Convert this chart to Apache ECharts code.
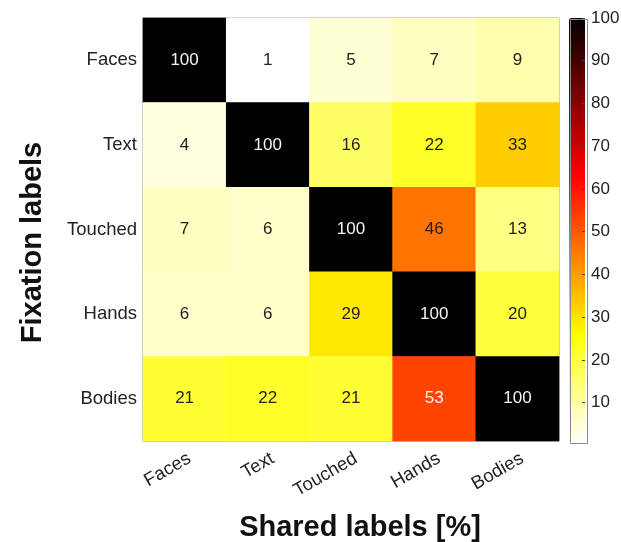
<!DOCTYPE html>
<html>
<head>
<meta charset="utf-8">
<script src="https://cdn.jsdelivr.net/npm/echarts@6/dist/echarts.min.js"></script>
<style>
  html, body { margin: 0; padding: 0; background: #fff; }
  #chart { width: 621px; height: 542px; }
</style>
</head>
<body>
<div id="chart"></div>
<script>
// Category labels (columns: shared labels, rows: fixation labels)
const sharedLabels = ['Faces', 'Text', 'Touched', 'Hands', 'Bodies'];
const fixationLabels = ['Faces', 'Text', 'Touched', 'Hands', 'Bodies'];

// Percentages, one row per fixation label
const rowFaces   = [100, 1, 5, 7, 9];
const rowText    = [4, 100, 16, 22, 33];
const rowTouched = [7, 6, 100, 46, 13];
const rowHands   = [6, 6, 29, 100, 20];
const rowBodies  = [21, 22, 21, 53, 100];
const matrix = [rowFaces, rowText, rowTouched, rowHands, rowBodies];

// Colour bar range and tick labels
const colorMin = 1;
const colorMax = 100;
const colorTicks = [10, 20, 30, 40, 50, 60, 70, 80, 90, 100];

// Reversed "hot" colour map, low -> high
const hotReversed = [
  '#ffffff', '#ffff80', '#ffff00', '#ffaa00', '#ff5500',
  '#ff0000', '#aa0000', '#550000', '#000000'
];

const cells = [];
matrix.forEach((row, r) => {
  row.forEach((v, c) => cells.push({
    value: [c, r, v],
    label: { color: v > 50 ? '#f4f4f4' : '#222' }
  }));
});

const font = 'Liberation Sans, Arial, sans-serif';
const chart = echarts.init(document.getElementById('chart'));

chart.setOption({
  animation: false,
  backgroundColor: '#ffffff',
  grid: [
    { left: 143, top: 18, width: 416, height: 423, show: true, outerBoundsMode: 'none',
      borderColor: '#8a8a8a', borderWidth: 1, backgroundColor: 'transparent' },
    { left: 569, top: 18, width: 16, height: 423, show: false, outerBoundsMode: 'none' }
  ],
  xAxis: [
    {
      type: 'category', gridIndex: 0, data: sharedLabels,
      name: 'Shared labels [%]', nameLocation: 'middle', nameGap: 72,
      nameTextStyle: { fontFamily: font, fontSize: 29, fontWeight: 'bold', color: '#111',
        padding: [0, 0, 0, 18] },
      axisLine: { show: false }, axisTick: { show: false }, splitLine: { show: false },
      axisLabel: { rotate: 30, margin: 8, verticalAlign: 'top',
        fontFamily: font, fontSize: 18.5, color: '#222' }
    },
    { type: 'value', gridIndex: 1, show: false, min: 0, max: 1 }
  ],
  yAxis: [
    {
      type: 'category', gridIndex: 0, data: fixationLabels, inverse: true,
      name: 'Fixation labels', nameLocation: 'middle', nameGap: 96,
      nameTextStyle: { fontFamily: font, fontSize: 29, fontWeight: 'bold', color: '#111',
        padding: [0, 26, 0, 0] },
      axisLine: { show: false }, axisTick: { show: false }, splitLine: { show: false },
      axisLabel: { margin: 6, fontFamily: font, fontSize: 18.5, color: '#222' }
    },
    {
      // Colour bar scale on the right edge of the bar
      type: 'value', gridIndex: 1, position: 'right', min: colorMin, max: colorMax, z: 20,
      axisLine: { show: false, onZero: false },
      splitLine: { show: false },
      axisTick: { show: true, inside: true, length: 3, customValues: colorTicks,
        lineStyle: { color: '#444' } },
      axisLabel: { margin: 6, fontFamily: font, fontSize: 17, color: '#222',
        customValues: colorTicks }
    }
  ],
  visualMap: {
    type: 'continuous', min: colorMin, max: colorMax, seriesIndex: 0,
    orient: 'vertical', left: 569, top: 18, padding: 0,
    itemWidth: 16, itemHeight: 423, calculable: false, text: ['', ''],
    showLabel: false, realtime: false, hoverLink: false,
    inRange: { color: hotReversed }
  },
  graphic: [
    { type: 'rect', left: 568, top: 17, z: 100, silent: true,
      shape: { width: 17, height: 424 },
      style: { fill: 'none', stroke: '#8a8a8a', lineWidth: 1 } }
  ],
  series: [{
    type: 'heatmap', xAxisIndex: 0, yAxisIndex: 0, data: cells,
    label: {
      show: true, fontFamily: font, fontSize: 17,
      formatter: p => String(p.value[2])
    },
    emphasis: { disabled: true }
  }]
});
</script>
</body>
</html>
